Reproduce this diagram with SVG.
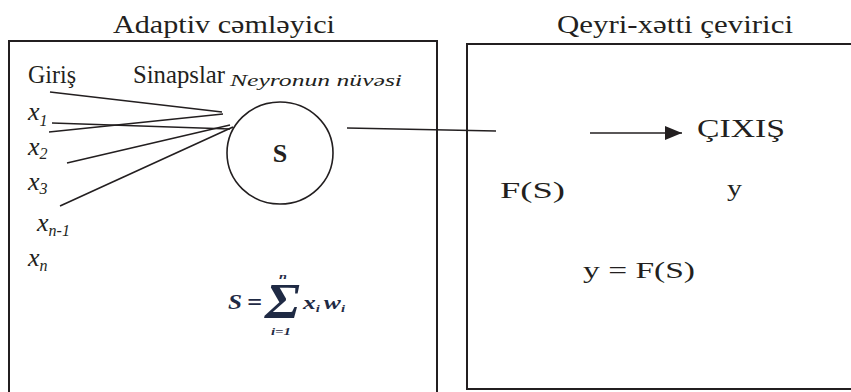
<svg xmlns="http://www.w3.org/2000/svg" width="851" height="392" viewBox="0 0 851 392">
<style>
.box{fill:#fff;stroke:#231f20;stroke-width:2}
.ln{stroke:#231f20;stroke-width:1.6;fill:none}
.t{font-family:'Liberation Serif','Times New Roman',serif;fill:#231f20}
.it{font-style:italic}
.f{font-family:'Liberation Serif','Times New Roman',serif;font-style:italic;font-weight:bold;fill:#1f2a44}
</style>
<defs>
<marker id="ah" markerWidth="17" markerHeight="14" refX="17" refY="7" orient="auto" markerUnits="userSpaceOnUse">
<path d="M0,0 L17,7 L0,14 Z" fill="#231f20"/>
</marker>
</defs>
<rect width="851" height="392" fill="#fff"/>

<g id="adaptive-summator">
<rect class="box" x="9" y="41" width="428" height="370"/>
<text class="t" x="113" y="33" font-size="26" textLength="222" lengthAdjust="spacingAndGlyphs">Adaptiv cəmləyici</text>
<text class="t" x="28" y="83" font-size="25" textLength="48" lengthAdjust="spacingAndGlyphs">Giriş</text>
<text class="t" x="133" y="83" font-size="25" textLength="92" lengthAdjust="spacingAndGlyphs">Sinapslar</text>
<text class="t it" x="230" y="86" font-size="16" textLength="172" lengthAdjust="spacingAndGlyphs">Neyronun nüvəsi</text>
</g>

<g id="inputs" class="t it">
<text x="28" y="120" font-size="26">x<tspan font-size="16" dy="6">1</tspan></text>
<text x="28" y="155" font-size="26">x<tspan font-size="16" dy="4">2</tspan></text>
<text x="28" y="190" font-size="26">x<tspan font-size="16" dy="4">3</tspan></text>
<text x="37" y="231" font-size="26">x<tspan font-size="16" dy="5">n-1</tspan></text>
<text x="28" y="266" font-size="26">x<tspan font-size="16" dy="5">n</tspan></text>
</g>

<g id="neuron-core">
<ellipse cx="280" cy="153" rx="53" ry="51" fill="none" stroke="#231f20" stroke-width="1.6"/>
<text class="t" x="280" y="162" font-size="26" font-weight="bold" text-anchor="middle">S</text>
</g>

<g id="formula">
<text class="f" x="228" y="309" font-size="20" textLength="14" lengthAdjust="spacingAndGlyphs">S</text>
<text class="f" x="247" y="310" font-size="24" font-style="normal" textLength="15" lengthAdjust="spacingAndGlyphs">=</text>
<text class="f" x="265" y="318" font-size="50" font-style="normal" font-weight="normal" textLength="35" lengthAdjust="spacingAndGlyphs">Σ</text>
<text class="f" x="279" y="279" font-size="9" textLength="8" lengthAdjust="spacingAndGlyphs">n</text>
<text class="f" x="271" y="335" font-size="11" textLength="20" lengthAdjust="spacingAndGlyphs">i=1</text>
<text class="f" x="303" y="309" font-size="19" font-weight="normal" textLength="42" lengthAdjust="spacingAndGlyphs">x<tspan font-size="11" dy="3">i</tspan><tspan font-size="19" dy="-3" dx="3">w</tspan><tspan font-size="11" dy="3">i</tspan></text>
</g>

<g id="nonlinear-converter">
<rect class="box" x="467" y="44" width="400" height="345"/>
<text class="t" x="557" y="33" font-size="26" textLength="236" lengthAdjust="spacingAndGlyphs">Qeyri-xətti çevirici</text>
<text class="t" x="697" y="137" font-size="25" textLength="88" lengthAdjust="spacingAndGlyphs">ÇIXIŞ</text>
<text class="t" x="500" y="198" font-size="24" textLength="65" lengthAdjust="spacingAndGlyphs">F(S)</text>
<text class="t" x="727" y="196" font-size="24" textLength="15" lengthAdjust="spacingAndGlyphs">y</text>
<text class="t" x="583" y="278" font-size="24" textLength="112" lengthAdjust="spacingAndGlyphs">y = F(S)</text>
</g>

<g id="connectors">
<line class="ln" x1="50" y1="92" x2="222" y2="112"/>
<line class="ln" x1="52" y1="123" x2="230" y2="129"/>
<line class="ln" x1="49" y1="132" x2="223" y2="114"/>
<line class="ln" x1="67" y1="163" x2="230" y2="125"/>
<line class="ln" x1="60" y1="206" x2="233" y2="127"/>
<line class="ln" x1="347" y1="128" x2="496" y2="131"/>
<line class="ln" x1="590" y1="133" x2="682" y2="133" marker-end="url(#ah)"/>
</g>
</svg>
